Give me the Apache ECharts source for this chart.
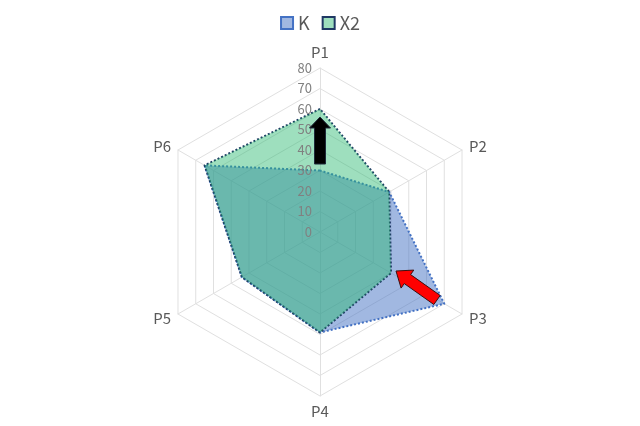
<!DOCTYPE html>
<html><head><meta charset="utf-8">
<script src="https://cdn.jsdelivr.net/npm/echarts@6/dist/echarts.min.js"></script>
<style>html,body{margin:0;padding:0;background:#fff}#c{width:640px;height:426px}</style>
</head><body><div id="c"></div>
<script>
const categories = ['P1','P2','P3','P4','P5','P6'];
const seriesNames = ['K','X2'];
const valuesK = [30, 39, 70, 49, 44, 65];
const valuesX2 = [60, 39, 40, 49, 44, 65];
const axisMax = 80;
const axisStep = 10;

// ECharts radar runs counter-clockwise; reorder so that categories run clockwise
function cw(arr) { return [arr[0]].concat(arr.slice(1).reverse()); }

const FONT = '"Noto Sans CJK JP", "Noto Sans", sans-serif';
const chart = echarts.init(document.getElementById('c'));

function arrow(tip, tail, shaftW, headW, headL) {
  const dx = tip[0]-tail[0], dy = tip[1]-tail[1];
  const L = Math.hypot(dx, dy);
  const ux = dx/L, uy = dy/L, px = -uy, py = ux;
  const bx = tip[0]-ux*headL, by = tip[1]-uy*headL;
  return [
    [tail[0]+px*shaftW/2, tail[1]+py*shaftW/2],
    [bx+px*shaftW/2, by+py*shaftW/2],
    [bx+px*headW/2, by+py*headW/2],
    tip,
    [bx-px*headW/2, by-py*headW/2],
    [bx-px*shaftW/2, by-py*shaftW/2],
    [tail[0]-px*shaftW/2, tail[1]-py*shaftW/2]
  ];
}

chart.setOption({
  animation: false,
  backgroundColor: '#fff',
  legend: {
    top: 9, left: 'center',
    data: seriesNames,
    icon: 'rect', itemWidth: 12, itemHeight: 12, itemGap: 12,
    textStyle: {color: '#595959', fontSize: 18, fontFamily: FONT}
  },
  radar: {
    center: ['50%', 232], radius: 164,
    startAngle: 90, shape: 'polygon', splitNumber: axisMax/axisStep,
    indicator: cw(categories).map(n => ({name: n, min: 0, max: axisMax})),
    nameGap: 8,
    axisName: {color: '#595959', fontSize: 15, fontFamily: FONT},
    axisLine: {lineStyle: {color: '#e0e0e0', width: 1}},
    splitLine: {lineStyle: {color: '#e0e0e0', width: 1}},
    splitArea: {show: false},
    axisTick: {show: false}, axisLabel: {show: false}
  },
  polar: {center: ['50%', 232], radius: 164},
  angleAxis: {show: false, startAngle: 90, min: 0, max: 360},
  radiusAxis: {
    min: 0, max: axisMax, interval: axisStep, z: 10,
    axisLine: {show: false}, axisTick: {show: false}, splitLine: {show: false},
    axisLabel: {color: '#808080', fontSize: 13, fontFamily: FONT, margin: 8}
  },
  series: [{
    type: 'radar',
    symbol: 'none',
    data: [
      {name: 'K', value: cw(valuesK),
       lineStyle: {color: '#4472c4', width: 2, type: 'dotted'},
       itemStyle: {color: 'rgba(68,114,196,0.5)', borderColor: '#4472c4', borderWidth: 2, borderType: 'dotted'},
       areaStyle: {color: 'rgba(68,114,196,0.5)', opacity: 1}},
      {name: 'X2', value: cw(valuesX2),
       lineStyle: {color: '#1f3864', width: 2, type: 'dotted'},
       itemStyle: {color: 'rgba(40,185,110,0.45)', borderColor: '#1f3864', borderWidth: 2, borderType: 'dotted'},
       areaStyle: {color: 'rgba(40,185,110,0.45)', opacity: 1}}
    ]
  }],
  graphic: [
    {type: 'polygon', z: 100, shape: {points: arrow([320,117],[320,164],11,21,11)},
     style: {fill: '#000', stroke: '#1f2a3a', lineWidth: 1}},
    {type: 'polygon', z: 100, shape: {points: arrow([396,271],[437,300],11,22,14)},
     style: {fill: '#ff0000', stroke: '#3a1010', lineWidth: 1}}
  ]
});
</script></body></html>
